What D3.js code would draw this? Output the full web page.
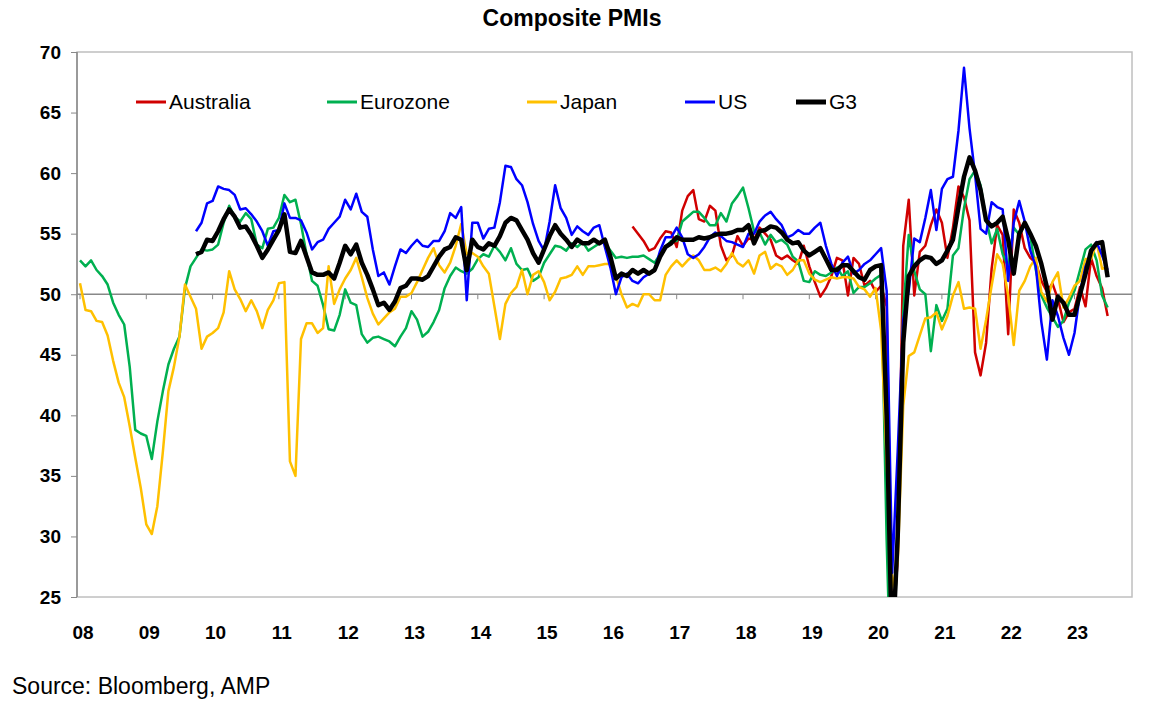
<!DOCTYPE html>
<html><head><meta charset="utf-8">
<script src="https://cdn.jsdelivr.net/npm/d3@7"></script>
<style>body{margin:0;background:#fff;font-family:Arial,"Liberation Sans",sans-serif}</style>
</head><body><svg id="c" width="1158" height="707"></svg>
<script>
// monthly composite PMIs; index 0 = Jan 2008
const yearLabels = ['08','09','10','11','12','13','14','15','16','17','18','19','20','21','22','23'];
const yTicks = [25, 30, 35, 40, 45, 50, 55, 60, 65, 70];

const eurozone = [
  52.8,52.3,52.8,52.0,51.5,50.8,49.3,48.3,47.5,44.0,38.8,38.5,
  38.3,36.4,39.5,42.0,44.2,45.5,46.5,50.5,52.3,53.0,53.7,53.6,
  53.7,54.1,55.9,57.3,56.4,56.0,56.7,56.2,54.1,53.8,55.4,55.5,
  56.3,58.2,57.6,57.8,55.8,53.3,51.1,50.7,49.1,47.1,47.0,48.3,
  50.4,49.3,49.1,46.7,46.0,46.4,46.5,46.3,46.1,45.7,46.5,47.2,
  48.6,47.9,46.5,46.9,47.7,48.7,50.5,51.5,52.2,51.9,51.7,52.1,
  52.9,53.3,53.1,54.0,53.5,52.8,53.8,52.5,52.0,52.1,51.1,51.4,
  52.6,53.3,54.0,53.9,53.6,54.2,53.9,54.3,53.6,53.9,54.2,54.3,
  53.6,53.0,53.1,53.0,53.1,53.1,53.2,52.9,52.6,53.3,53.9,54.4,
  54.4,56.0,56.4,56.8,56.8,56.3,55.7,55.7,56.7,56.0,57.5,58.1,
  58.8,57.1,55.2,55.1,54.1,54.9,54.3,54.5,54.1,53.1,52.7,51.1,
  51.0,51.9,51.6,51.5,51.8,52.2,51.5,51.9,50.1,50.6,50.6,50.9,
  51.3,51.6,29.7,13.6,31.9,48.5,54.9,51.9,50.4,50.0,45.3,49.1,
  47.8,48.8,53.2,53.8,57.1,59.5,60.2,59.0,56.2,54.2,55.4,53.3,
  52.3,55.5,54.9,55.8,54.8,52.0,49.9,48.9,48.1,47.3,47.8,49.3,
  50.3,52.0,53.7,54.1,52.8,49.9,48.9];

const japan = [
  50.9,48.7,48.6,47.8,47.7,46.6,44.5,42.7,41.5,39.1,36.5,34.0,
  31.0,30.2,32.5,37.0,42.0,44.0,46.5,50.8,49.8,48.8,45.5,46.5,
  46.8,47.2,48.5,51.9,50.4,49.6,48.6,49.5,48.6,47.2,48.7,49.5,
  50.9,51.0,36.2,35.0,46.3,47.6,47.6,46.8,47.2,52.3,49.2,50.4,
  51.3,52.0,53.0,51.4,49.7,48.4,47.5,48.0,48.5,48.8,49.8,49.8,
  50.1,51.0,52.0,53.0,53.8,52.4,51.8,52.6,54.0,55.8,53.3,53.4,
  53.1,52.3,51.7,49.0,46.3,49.2,50.1,50.6,52.0,50.0,51.6,51.9,
  51.0,49.5,50.2,51.3,51.4,51.6,52.3,51.6,52.3,52.3,52.4,52.5,
  52.5,51.5,50.0,48.9,49.2,49.0,50.0,50.0,49.5,49.5,51.6,52.3,
  52.8,52.3,52.8,53.2,52.8,52.0,52.0,52.2,51.9,52.5,53.4,52.6,
  52.3,52.8,51.7,53.2,53.5,52.1,52.5,52.3,51.6,52.0,52.8,52.8,
  51.7,51.2,51.0,51.2,51.4,51.3,51.4,51.4,51.3,50.6,50.4,49.8,
  50.5,47.0,36.2,25.8,27.8,40.8,44.9,45.2,46.6,48.0,48.1,48.5,
  47.1,48.2,49.9,51.0,48.8,48.9,48.8,45.5,47.9,50.7,53.3,52.5,
  49.9,45.8,50.3,51.1,52.3,53.0,50.2,49.4,51.0,51.8,48.9,49.7,
  50.7,51.1,52.9,52.9,54.3,52.1,52.2];

// starts Oct 2009
const usStart = 21;
const us = [
  55.2,55.9,57.5,
  57.7,58.9,58.7,58.6,58.2,57.0,57.1,56.6,56.0,55.2,54.0,55.2,
  55.3,57.5,56.3,56.3,56.1,55.1,53.7,54.3,54.5,55.4,55.9,56.4,
  57.8,57.0,58.3,56.8,56.4,53.7,51.5,51.8,50.8,52.3,53.7,53.4,
  54.0,54.5,54.0,53.9,54.4,54.4,55.2,56.7,56.3,57.2,49.5,55.9,
  55.9,54.6,55.4,55.5,57.6,60.6,60.5,59.5,59.0,57.6,55.8,54.4,
  53.6,56.0,59.0,57.1,56.3,54.9,55.6,55.2,54.9,55.5,55.7,53.9,
  52.2,50.0,51.4,51.7,51.1,50.9,51.4,51.7,52.0,53.6,54.7,54.7,
  55.5,54.7,53.3,53.0,53.3,53.9,54.7,55.1,54.8,54.4,54.3,54.1,
  53.9,55.0,55.0,56.0,56.5,56.8,56.2,55.7,54.7,54.9,55.3,55.0,
  55.0,55.5,55.9,54.0,52.5,51.5,52.6,53.1,51.7,52.0,52.5,52.8,
  53.3,53.8,50.3,27.0,37.0,47.9,50.3,54.6,54.3,56.3,58.6,55.3,
  58.7,59.5,59.7,63.5,68.7,63.7,59.9,55.4,55.0,57.6,57.2,57.0,
  51.1,55.9,57.7,56.0,53.6,52.3,47.7,44.6,49.5,48.2,46.4,45.0,
  46.8,50.1,52.3,53.4,54.3,53.2,52.0];

// starts May 2016
const australiaStart = 100;
const australia = [
  55.6,55.0,54.4,53.6,53.8,54.6,55.2,55.1,
  53.9,56.9,58.1,58.6,56.2,56.0,57.3,56.9,54.0,52.8,53.2,54.8,
  54.0,54.6,54.5,55.5,55.0,54.5,53.2,52.9,53.2,52.8,52.5,54.0,
  52.3,51.0,49.8,50.5,51.5,53.0,52.8,49.9,53.0,52.5,50.7,51.1,
  50.2,50.7,49.0,21.7,28.1,54.0,57.8,49.9,53.5,54.0,55.7,57.0,
  55.9,53.0,55.5,58.9,58.0,56.1,45.2,43.3,46.0,52.1,55.7,54.9,
  46.7,57.0,55.9,53.8,53.0,52.6,51.1,50.2,50.9,49.6,47.7,48.5,
  48.8,50.6,49.0,53.0,51.5,50.5,48.2];

// starts Oct 2009
const g3Start = 21;
const g3 = [
  53.3,53.5,54.5,
  54.4,55.2,56.2,57.0,56.4,55.5,55.6,54.9,54.0,53.0,53.7,54.5,
  55.3,56.6,53.5,53.4,54.4,53.1,51.8,51.6,51.6,51.8,51.3,52.6,
  54.0,53.3,54.1,52.6,51.6,50.4,49.1,49.3,48.7,49.4,50.5,50.7,
  51.3,51.3,51.2,51.5,52.3,53.1,53.7,53.9,54.7,54.5,52.0,54.5,
  53.9,53.7,54.2,54.0,54.8,55.9,56.3,56.1,55.3,54.5,53.4,52.6,
  53.7,54.8,55.7,55.0,54.5,53.9,54.5,54.2,54.2,54.5,54.2,54.5,
  53.1,51.3,51.7,51.5,52.0,51.7,52.0,51.7,52.0,53.1,53.9,54.2,
  54.7,54.5,54.5,54.5,54.7,54.6,54.7,54.9,55.0,55.0,55.1,55.3,
  55.3,55.7,54.2,55.2,55.3,55.6,55.5,55.1,54.5,54.2,54.3,53.6,
  53.2,53.5,53.8,52.9,52.0,52.0,52.4,52.4,51.9,51.4,51.2,52.0,
  52.3,52.4,40.0,20.0,30.0,46.0,51.5,52.3,52.8,53.1,53.0,52.5,
  52.8,53.6,54.5,57.2,59.7,61.3,60.2,58.6,56.1,55.6,55.9,56.4,
  54.5,51.7,55.0,55.9,55.0,54.0,52.5,50.6,47.9,49.8,49.3,48.3,
  48.3,50.0,51.7,53.6,54.2,54.3,51.4];

const series = [
  {name: 'Australia', start: australiaStart, values: australia, color: '#d00000', width: 2.5},
  {name: 'Eurozone', start: 0, values: eurozone, color: '#00b050', width: 2.5},
  {name: 'Japan', start: 0, values: japan, color: '#ffc000', width: 2.5},
  {name: 'US', start: usStart, values: us, color: '#0000ff', width: 2.5},
  {name: 'G3', start: g3Start, values: g3, color: '#000000', width: 4.5},
];

const svg = d3.select('#c');
const plotL = 77, plotR = 1132, plotT = 52, plotB = 597;
const x = d3.scaleLinear().domain([0, 186]).range([80, 80 + 186 * 5.525]);
const y = d3.scaleLinear().domain([25, 70]).range([plotB, plotT]);

svg.append('text').attr('x', 572).attr('y', 26).attr('text-anchor', 'middle')
    .style('font-weight', 'bold').style('font-size', '23px').text('Composite PMIs');

// frame
svg.append('rect').attr('x', plotL).attr('y', plotT).attr('width', plotR - plotL).attr('height', plotB - plotT)
    .attr('fill', 'none').attr('stroke', '#bfbfbf').attr('stroke-width', 1.5);
svg.append('line').attr('x1', plotL).attr('x2', plotL).attr('y1', plotT).attr('y2', plotB)
    .attr('stroke', '#888').attr('stroke-width', 1.5);

// y axis
const yAxis = svg.append('g').attr('transform', `translate(${plotL},0)`)
    .call(d3.axisLeft(y).tickValues(yTicks).tickSize(6).tickPadding(10));
yAxis.select('.domain').remove();
yAxis.selectAll('line').attr('stroke', '#888');
yAxis.selectAll('text').style('font-size', '19px').style('font-weight', 'bold')
    .style('font-family', 'Arial,"Liberation Sans",sans-serif').attr('fill', '#000');

// 50 line with year ticks
svg.append('line').attr('x1', plotL).attr('x2', plotR).attr('y1', y(50)).attr('y2', y(50))
    .attr('stroke', '#888').attr('stroke-width', 1.5);
yearLabels.forEach((lab, i) => {
  const xx = x(i * 12);
  svg.append('line').attr('x1', xx).attr('x2', xx).attr('y1', y(50)).attr('y2', y(50) + 5)
      .attr('stroke', '#888');
  svg.append('text').attr('x', xx + 3).attr('y', 639).attr('text-anchor', 'middle')
      .style('font-size', '19px').style('font-weight', 'bold').text(lab);
});

svg.append('clipPath').attr('id', 'clip').append('rect')
    .attr('x', plotL).attr('y', plotT).attr('width', plotR - plotL).attr('height', plotB - plotT);

const line = d3.line().x(d => x(d.m)).y(d => y(d.v));
const g = svg.append('g').attr('clip-path', 'url(#clip)');
series.forEach(s => {
  g.append('path')
      .datum(s.values.map((v, i) => ({m: s.start + i, v})))
      .attr('d', line).attr('fill', 'none').attr('stroke', s.color)
      .attr('stroke-width', s.width).attr('stroke-linejoin', 'round');
});

// legend
const legendX = [136, 327, 527, 685, 796];
series.forEach((s, i) => {
  const lx = legendX[i];
  svg.append('line').attr('x1', lx).attr('x2', lx + 30).attr('y1', 102).attr('y2', 102)
      .attr('stroke', s.color).attr('stroke-width', s.width + 0.5);
  svg.append('text').attr('x', lx + 33).attr('y', 109).style('font-size', '21px').text(s.name);
});

svg.append('text').attr('x', 12).attr('y', 694).style('font-size', '23px').text('Source: Bloomberg, AMP');
</script></body></html>
